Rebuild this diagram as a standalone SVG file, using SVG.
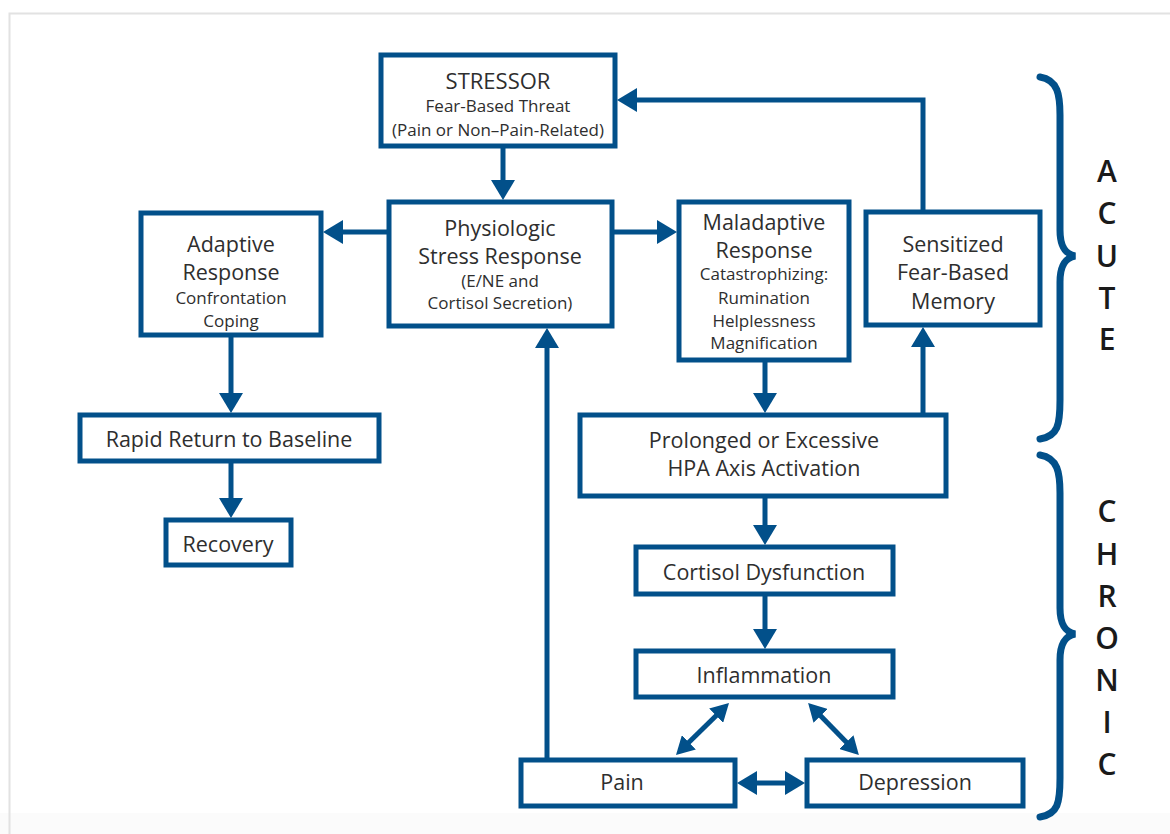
<svg xmlns="http://www.w3.org/2000/svg" width="1170" height="834" viewBox="0 0 1170 834">
<defs>
<style>
.box{fill:#fff;stroke:#02508a;stroke-width:5}
.ln{fill:none;stroke:#02508a;stroke-width:5}
.t{font-family:"Open Sans","Liberation Sans",sans-serif;fill:#2e2e2e;text-anchor:middle}
.m{font-size:21.5px}
.s{font-size:17px}
.lab{font-family:"Open Sans","Liberation Sans",sans-serif;font-weight:600;font-size:30px;fill:#1a1a1a;text-anchor:middle}
.brace{fill:none;stroke:#02508a;stroke-width:7;stroke-linecap:round}
</style>
<marker id="ah" viewBox="0 0 20 24" refX="12" refY="12" markerWidth="20" markerHeight="24" markerUnits="userSpaceOnUse" orient="auto-start-reverse">
<path d="M0 0 L20 12 L0 24 Z" fill="#02508a"/>
</marker>
<marker id="ahs" viewBox="0 0 18 20" refX="11" refY="10" markerWidth="18" markerHeight="20" markerUnits="userSpaceOnUse" orient="auto-start-reverse">
<path d="M0 0 L18 10 L0 20 Z" fill="#02508a"/>
</marker>
<path id="br" d="M1040 77 C1058 80 1060 95 1060 115 L1060 230 C1060 248 1066 254 1075 256 C1066 258 1060 264 1060 282 L1060 400 C1060 425 1058 436 1040 439"/>
</defs>
<rect x="0" y="0" width="1170" height="834" fill="#fff"/>
<rect x="0" y="813" width="1170" height="21" fill="#fbfbfb"/>
<path d="M9.5 834 L9.5 13.5 L1170 13.5" fill="none" stroke="#e2e2e2" stroke-width="2"/>

<g id="connectors">
<line class="ln" x1="503" y1="146" x2="503" y2="192" marker-end="url(#ah)"/>
<line class="ln" x1="389" y1="232" x2="331" y2="232" marker-end="url(#ah)"/>
<line class="ln" x1="612" y1="232" x2="669" y2="232" marker-end="url(#ah)"/>
<polyline class="ln" points="923,212 923,100 625,100" marker-end="url(#ah)"/>
<line class="ln" x1="231" y1="335" x2="231" y2="405" marker-end="url(#ah)"/>
<line class="ln" x1="231" y1="461" x2="231" y2="510" marker-end="url(#ah)"/>
<line class="ln" x1="765" y1="360" x2="765" y2="405" marker-end="url(#ah)"/>
<line class="ln" x1="923" y1="415" x2="923" y2="335" marker-end="url(#ah)"/>
<line class="ln" x1="765" y1="497" x2="765" y2="537" marker-end="url(#ah)"/>
<line class="ln" x1="765" y1="594" x2="765" y2="641" marker-end="url(#ah)"/>
<line class="ln" x1="547" y1="760" x2="547" y2="336" marker-end="url(#ah)"/>
<line class="ln" x1="745" y1="783" x2="797" y2="783" marker-start="url(#ah)" marker-end="url(#ah)"/>
<line class="ln" x1="724" y1="708" x2="681" y2="750" marker-start="url(#ahs)" marker-end="url(#ahs)"/>
<line class="ln" x1="813" y1="708" x2="854" y2="750" marker-start="url(#ahs)" marker-end="url(#ahs)"/>
</g>

<g id="stressor">
<rect class="box" x="381" y="55" width="234" height="91"/>
<text class="t" x="498" y="89" style="font-size:22px">STRESSOR</text>
<text class="t s" x="498" y="112">Fear-Based Threat</text>
<text class="t s" x="498" y="136">(Pain or Non–Pain-Related)</text>
</g>
<g id="physiologic">
<rect class="box" x="389" y="202" width="223" height="124"/>
<text class="t m" x="500" y="236">Physiologic</text>
<text class="t m" x="500" y="264">Stress Response</text>
<text class="t s" x="500" y="287">(E/NE and</text>
<text class="t s" x="500" y="309">Cortisol Secretion)</text>
</g>
<g id="adaptive">
<rect class="box" x="141" y="213" width="180" height="122"/>
<text class="t m" x="231" y="252">Adaptive</text>
<text class="t m" x="231" y="280">Response</text>
<text class="t s" x="231" y="304">Confrontation</text>
<text class="t s" x="231" y="327">Coping</text>
</g>
<g id="maladaptive">
<rect class="box" x="679" y="202" width="170" height="158"/>
<text class="t m" x="764" y="230">Maladaptive</text>
<text class="t m" x="764" y="258">Response</text>
<text class="t s" x="764" y="280">Catastrophizing:</text>
<text class="t s" x="764" y="304">Rumination</text>
<text class="t s" x="764" y="327">Helplessness</text>
<text class="t s" x="764" y="349">Magnification</text>
</g>
<g id="sensitized">
<rect class="box" x="866" y="212" width="174" height="113"/>
<text class="t m" x="953" y="252">Sensitized</text>
<text class="t m" x="953" y="280">Fear-Based</text>
<text class="t m" x="953" y="309">Memory</text>
</g>
<g id="rapid">
<rect class="box" x="80" y="415" width="299" height="46"/>
<text class="t m" x="229" y="447">Rapid Return to Baseline</text>
</g>
<g id="recovery">
<rect class="box" x="166" y="520" width="125" height="45"/>
<text class="t m" x="228" y="552">Recovery</text>
</g>
<g id="prolonged">
<rect class="box" x="580" y="415" width="366" height="81"/>
<text class="t m" x="764" y="448">Prolonged or Excessive</text>
<text class="t m" x="764" y="476">HPA Axis Activation</text>
</g>
<g id="cortisol">
<rect class="box" x="636" y="547" width="257" height="47"/>
<text class="t m" x="764" y="580">Cortisol Dysfunction</text>
</g>
<g id="inflammation">
<rect class="box" x="636" y="651" width="257" height="46"/>
<text class="t m" x="764" y="683">Inflammation</text>
</g>
<g id="pain">
<rect class="box" x="521" y="760" width="214" height="46"/>
<text class="t m" x="622" y="790">Pain</text>
</g>
<g id="depression">
<rect class="box" x="807" y="760" width="216" height="46"/>
<text class="t m" x="915" y="790">Depression</text>
</g>

<g id="acute">
<use href="#br" class="brace"/>
<text class="lab" x="1107" y="182">A</text>
<text class="lab" x="1107" y="224">C</text>
<text class="lab" x="1107" y="267">U</text>
<text class="lab" x="1107" y="309">T</text>
<text class="lab" x="1107" y="350">E</text>
</g>
<g id="chronic">
<use href="#br" class="brace" transform="translate(0,378)"/>
<text class="lab" x="1107" y="522">C</text>
<text class="lab" x="1107" y="565">H</text>
<text class="lab" x="1107" y="607">R</text>
<text class="lab" x="1107" y="649">O</text>
<text class="lab" x="1107" y="691">N</text>
<text class="lab" x="1107" y="733">I</text>
<text class="lab" x="1107" y="775">C</text>
</g>
</svg>
